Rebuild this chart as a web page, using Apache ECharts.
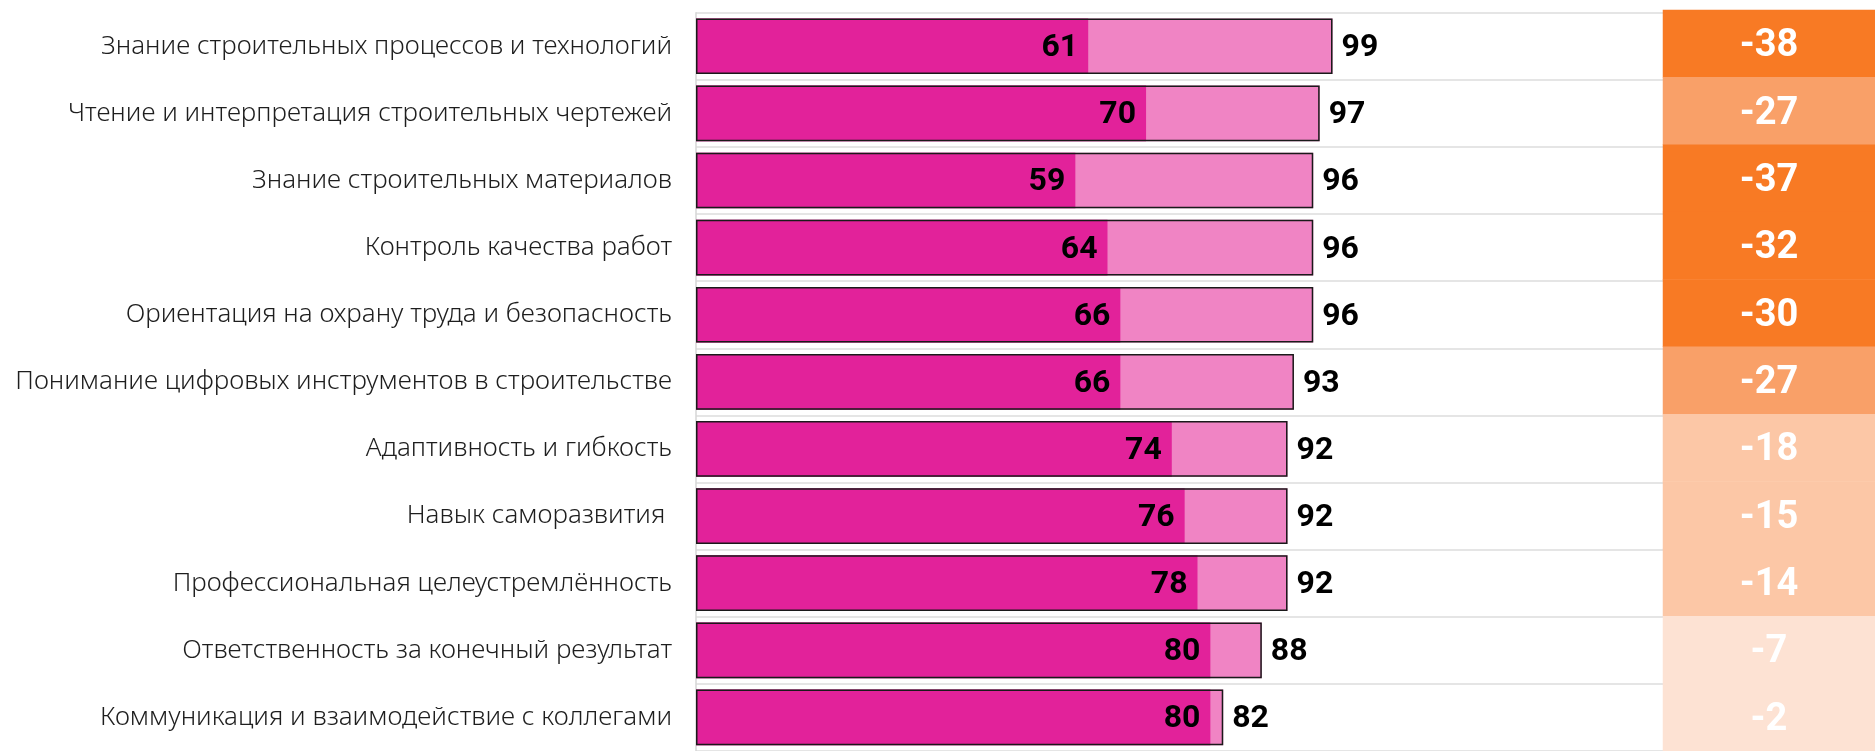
<!DOCTYPE html>
<html>
<head>
<meta charset="utf-8">
<script src="https://cdn.jsdelivr.net/npm/echarts@6/dist/echarts.min.js"></script>
<style>
  html, body { margin: 0; padding: 0; background: #ffffff; }
  #chart { width: 1875px; height: 751px; }
</style>
</head>
<body>
<div id="chart"></div>
<script>
const categories = [
  'Знание строительных процессов и технологий',
  'Чтение и интерпретация строительных чертежей',
  'Знание строительных материалов',
  'Контроль качества работ',
  'Ориентация на охрану труда и безопасность',
  'Понимание цифровых инструментов в строительстве',
  'Адаптивность и гибкость',
  'Навык саморазвития ',
  'Профессиональная целеустремлённость',
  'Ответственность за конечный результат',
  'Коммуникация и взаимодействие с коллегами'
];
const currentLevel = [61, 70, 59, 64, 66, 66, 74, 76, 78, 80, 80];
const requiredLevel = [99, 97, 96, 96, 96, 93, 92, 92, 92, 88, 82];
const gapValues = [-38, -27, -37, -32, -30, -27, -18, -15, -14, -7, -2];

const chart = echarts.init(document.getElementById('chart'), null, { renderer: 'canvas' });

const heatData = gapValues.map((v, i) => [0, i, v]);

const option = {
  animation: false,
  backgroundColor: '#ffffff',
  grid: [
    { left: 696, top: 12.7, width: 967, height: 742.5, containLabel: false },
    { left: 1663, top: 10, width: 234, height: 742.5, containLabel: false }
  ],
  xAxis: [
    { type: 'value', gridIndex: 0, min: 0, max: 150.4, show: false },
    { type: 'category', gridIndex: 1, data: [''], show: false }
  ],
  yAxis: [
    {
      type: 'category', gridIndex: 0, data: categories, inverse: true,
      axisLine: { show: true, lineStyle: { color: '#d6d6d6', width: 1.5 } },
      axisTick: { show: false },
      splitLine: { show: true, interval: 0, lineStyle: { color: '#dcdcdc', width: 1.5 } },
      axisLabel: {
        margin: 24, fontFamily: 'Noto Sans', fontSize: 26, color: '#1e1e1e', fontWeight: 300
      }
    },
    { type: 'category', gridIndex: 1, data: categories, inverse: true, show: false }
  ],
  visualMap: {
    type: 'piecewise', show: false, seriesIndex: 3, dimension: 2,
    pieces: [
      { max: -29.5, color: '#F87A24' },
      { min: -29.5, max: -19.5, color: '#F9A068' },
      { min: -19.5, max: -9.5, color: '#FCC7A6' },
      { min: -9.5, color: '#FDE2D3' }
    ]
  },
  series: [
    {
      name: 'required-fill', type: 'bar', xAxisIndex: 0, yAxisIndex: 0,
      data: requiredLevel, barWidth: '83%', barGap: '-100%',
      itemStyle: { color: '#F084C4' }, z: 2, silent: true
    },
    {
      name: 'current', type: 'bar', xAxisIndex: 0, yAxisIndex: 0,
      data: currentLevel, barWidth: '83%', barGap: '-100%',
      itemStyle: { color: '#E2229A' }, z: 3,
      label: {
        show: true, position: 'insideRight', distance: 10, offset: [0, 2],
        fontFamily: 'Roboto', fontWeight: 'bold', fontSize: 32, color: '#000000'
      }
    },
    {
      name: 'required', type: 'bar', xAxisIndex: 0, yAxisIndex: 0,
      data: requiredLevel, barWidth: '83%', barGap: '-100%',
      itemStyle: { color: 'rgba(0,0,0,0)', borderColor: '#1a1a1a', borderWidth: 1.5 }, z: 4,
      label: {
        show: true, position: 'right', distance: 9, offset: [0, 2],
        fontFamily: 'Roboto', fontWeight: 'bold', fontSize: 32, color: '#000000'
      }
    },
    {
      name: 'gap', type: 'heatmap', xAxisIndex: 1, yAxisIndex: 1,
      data: heatData,
      label: {
        show: true, fontFamily: 'Roboto', fontWeight: 'bold', fontSize: 38, color: '#ffffff',
        offset: [0, 3],
        formatter: p => String(p.value[2])
      },
      itemStyle: { borderWidth: 0 }
    }
  ]
};
chart.setOption(option);
</script>
</body>
</html>
